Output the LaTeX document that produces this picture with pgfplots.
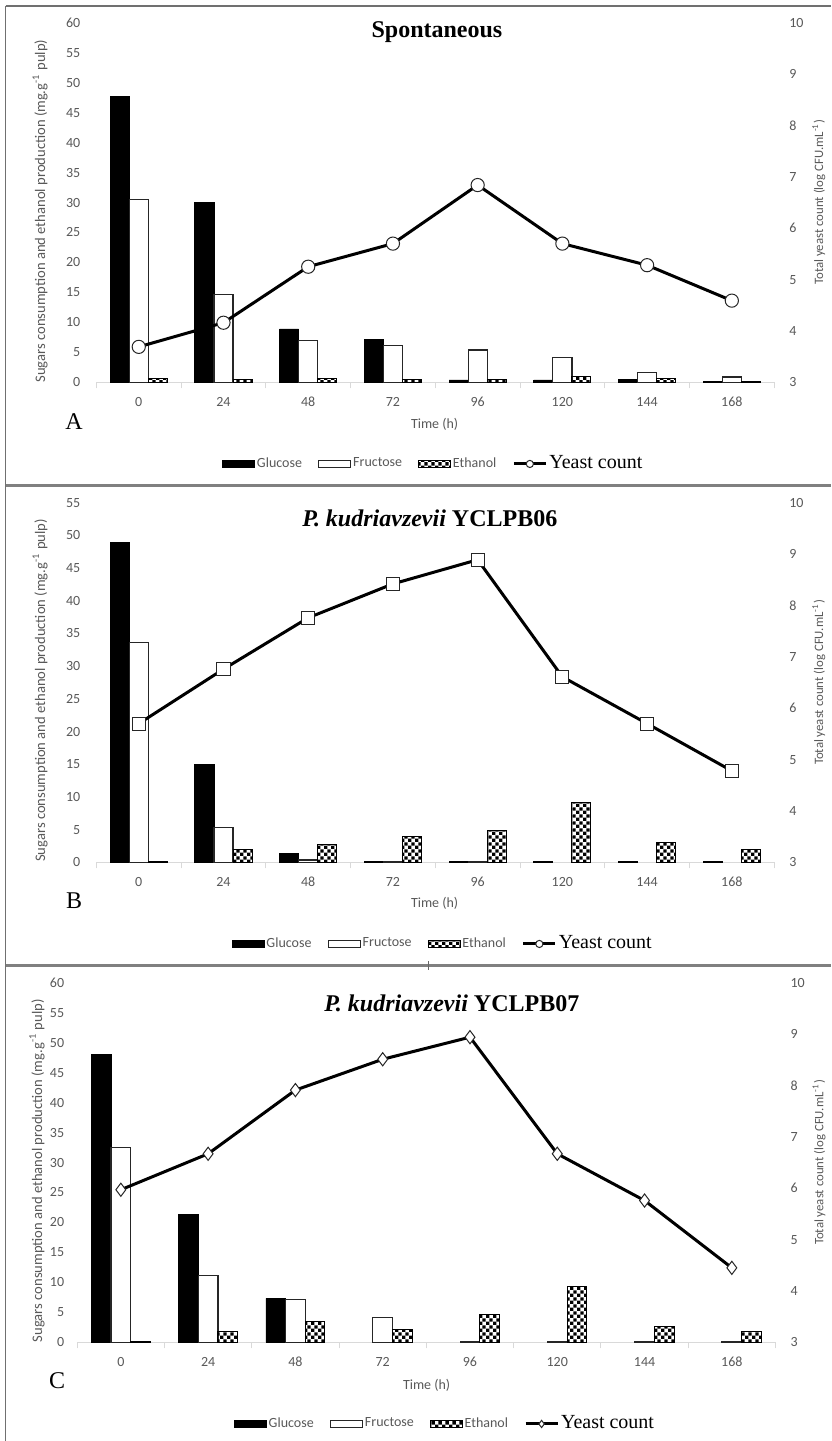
\documentclass[border=0pt]{standalone}
\usepackage{fontspec}
\setmainfont{Liberation Serif}
\setsansfont{Carlito}
\usepackage{pgfplots}
\pgfplotsset{compat=1.18}
\usetikzlibrary{patterns,patterns.meta}
\definecolor{txtgray}{HTML}{595959}
\definecolor{axgray}{HTML}{D9D9D9}
\definecolor{framegray}{HTML}{707070}

\tikzdeclarepattern{
  name=finecheck, type=uncolored,
  bounding box={(0,0) and (3.4pt,3.4pt)},
  tile size={(3.4pt,3.4pt)},
  code={\tikzset{x=1pt,y=1pt}
        \fill (0,0) rectangle (1.7,1.7);
        \fill (1.7,1.7) rectangle (3.4,3.4);}
}

\pgfplotsset{
  common/.style={
    scale only axis, height=179.8pt,
    xmin=-0.5, xmax=7.5,
    clip=false,
    ticklabel style={font=\sffamily\fontsize{7}{8}\selectfont, text=txtgray},
    /pgf/number format/assume math mode=true,
    label style={font=\sffamily\fontsize{7}{8}\selectfont, text=txtgray},
  },
  leftax/.style={
    common, ymin=0,
    axis x line*=bottom, axis y line*=left,
    y axis line style={draw=none},
    x axis line style={draw=axgray, line width=0.75pt},
    xtick={0,...,7}, xticklabels={0,24,48,72,96,120,144,168},
    major tick length=0pt,
    extra x ticks={-0.5,0.5,...,7.5}, extra x tick labels={},
    extra x tick style={major tick length=3pt, tick align=outside, tick style={draw=axgray, line width=0.5pt}},
    xticklabel style={yshift=-4pt},
    ylabel={Sugars consumption and ethanol production (mg.g\textsuperscript{-1} pulp)},
    ylabel style={font=\sffamily\fontsize{7.3}{8}\selectfont},
    xlabel={Time (h)},
  },
  rightax/.style={
    common, ymin=3, ymax=10, ytick={3,...,10},
    axis x line=none, xtick=\empty,
    axis y line*=right, y axis line style={draw=none},
    major tick length=0pt,
    yticklabel style={xshift=4pt},
    ylabel={Total yeast count (log CFU.mL\textsuperscript{-1})},
    ylabel style={font=\sffamily\fontsize{6.4}{7}\selectfont},
    legend columns=4,
    legend style={anchor=center, draw=none, fill=none,
      font=\sffamily\fontsize{7}{8}\selectfont, text=txtgray,
      /tikz/every even column/.append style={column sep=7pt},
      nodes={inner sep=1pt}},
  },
  glu/.style={ybar, bar width=0.225, bar shift=-0.225, fill=black, draw=black, line width=0.4pt},
  fru/.style={ybar, bar width=0.225, bar shift=0, fill=white, draw=black!85, line width=0.6pt},
  eth/.style={ybar, bar width=0.225, bar shift=0.225, pattern=finecheck, draw=black, line width=0.5pt},
  barleg/.style={legend image code/.code={\draw[##1] (0pt,-1.8pt) rectangle (16pt,1.8pt);}},
  yeastleg/.style={legend image code/.code={\draw[##1, mark=none] (0pt,0pt) -- (16pt,0pt); \draw[##1, mark size=1.8pt] plot coordinates {(8pt,0pt)};}},
  yeast/.style={black, line width=1.5pt, mark size=3.3pt, mark options={fill=white, draw=black!85, line width=0.5pt}, yeastleg},
}
\newcommand{\yc}{\rmfamily\fontsize{10}{10}\selectfont\color{black}Yeast count}
\tikzset{ttl/.style={font=\rmfamily\bfseries\fontsize{12}{14}\selectfont, anchor=center, inner sep=0pt},
         pl/.style={font=\rmfamily\fontsize{12}{12}\selectfont, anchor=center, inner sep=0pt}}

\begin{document}
\begin{tikzpicture}
\useasboundingbox (0,0) rectangle (415.5pt,-720.5pt);
\fill[white] (0,0) rectangle (415.5pt,-720.5pt);
\draw[framegray, line width=0.75pt] (2.75pt,-3pt) -- (2.75pt,-720.5pt);
\draw[framegray, line width=0.75pt] (2.75pt,-3pt) -- (415.5pt,-3pt);
\draw[black!50, line width=1.4pt] (2.75pt,-242.85pt) -- (415.5pt,-242.85pt);
\draw[black!50, line width=1.4pt] (2.75pt,-482.85pt) -- (415.5pt,-482.85pt);
\draw[black!60, line width=0.4pt] (214pt,-480.5pt) -- (214pt,-485pt);

% ---------------- Panel A ----------------
\begin{axis}[leftax, at={(48.2pt,-191.15pt)}, anchor=south west, width=338.9pt,
  ymax=60, ytick={0,5,...,60},
  yticklabel style={xshift=-4.5pt},
  ylabel style={at={(axis description cs:-0.0832,0.476)}, anchor=center},
  xlabel style={at={(axis description cs:0.499,-0.116)}, anchor=center}]
\addplot[glu] coordinates {(0,47.7) (1,30.0) (2,8.9) (3,7.2) (4,0.4) (5,0.4) (6,0.5) (7,0.1)};
\addplot[fru] coordinates {(0,30.5) (1,14.7) (2,6.95) (3,6.1) (4,5.4) (5,4.2) (6,1.7) (7,0.9)};
\addplot[eth] coordinates {(0,0.6) (1,0.4) (2,0.6) (3,0.4) (4,0.4) (5,0.9) (6,0.6) (7,0.1)};
\node[ttl] at (axis description cs:0.5025,0.975) {Spontaneous};
\node[pl] at (axis description cs:-0.033,-0.1096) {A};
\end{axis}
\begin{axis}[rightax, at={(48.2pt,-191.15pt)}, anchor=south west, width=338.9pt,
  ylabel style={at={(axis description cs:1.066,0.501)}, anchor=center},
  legend style={at={(0.497,-0.227)}}]
\addlegendimage{barleg, fill=black, draw=black}
\addlegendentry{Glucose}
\addlegendimage{barleg, fill=white, draw=black!85, line width=0.6pt}
\addlegendentry{Fructose}
\addlegendimage{barleg, pattern=finecheck, draw=black}
\addlegendentry{Ethanol}
\addplot[yeast, mark=*] coordinates {(0,3.69) (1,4.16) (2,5.25) (3,5.70) (4,6.84) (5,5.70) (6,5.28) (7,4.59)};
\addlegendentry{\yc}
\end{axis}

% ---------------- Panel B ----------------
\begin{axis}[leftax, at={(48.2pt,-431.15pt)}, anchor=south west, width=338.9pt,
  ymax=55, ytick={0,5,...,55},
  yticklabel style={xshift=-4.5pt},
  ylabel style={at={(axis description cs:-0.0832,0.478)}, anchor=center},
  xlabel style={at={(axis description cs:0.499,-0.114)}, anchor=center}]
\addplot[glu] coordinates {(0,48.9) (1,15.0) (2,1.4) (3,0.1) (4,0.1) (5,0.1) (6,0.1) (7,0.1)};
\addplot[fru] coordinates {(0,33.6) (1,5.3) (2,0.35) (3,0.1) (4,0.1)};
\addplot[eth] coordinates {(0,0.1) (1,1.9) (2,2.65) (3,3.9) (4,4.85) (5,9.1) (6,3.05) (7,2.0)};
\node[ttl] at (axis description cs:0.492,0.957) {\textit{P. kudriavzevii} YCLPB06};
\node[pl] at (axis description cs:-0.033,-0.107) {B};
\end{axis}
\begin{axis}[rightax, at={(48.2pt,-431.15pt)}, anchor=south west, width=338.9pt,
  ylabel style={at={(axis description cs:1.066,0.5)}, anchor=center},
  legend style={at={(0.511,-0.227)}}]
\addlegendimage{barleg, fill=black, draw=black}
\addlegendentry{Glucose}
\addlegendimage{barleg, fill=white, draw=black!85, line width=0.6pt}
\addlegendentry{Fructose}
\addlegendimage{barleg, pattern=finecheck, draw=black}
\addlegendentry{Ethanol}
\addplot[yeast, mark=square*, legend image post style={mark=*}] coordinates {(0,5.70) (1,6.76) (2,7.76) (3,8.42) (4,8.89) (5,6.61) (6,5.70) (7,4.78)};
\addlegendentry{\yc}
\end{axis}

% ---------------- Panel C ----------------
\begin{axis}[leftax, at={(38.6pt,-671.15pt)}, anchor=south west, width=349.15pt,
  ymax=60, ytick={0,5,...,60},
  yticklabel style={xshift=-3pt},
  ylabel style={at={(axis description cs:-0.0576,0.477)}, anchor=center},
  xlabel style={at={(axis description cs:0.5004,-0.119)}, anchor=center}]
\addplot[glu] coordinates {(0,48.05) (1,21.4) (2,7.35)};
\addplot[fru] coordinates {(0,32.5) (1,11.2) (2,7.1) (3,4.2) (4,0.1) (5,0.1) (6,0.1) (7,0.1)};
\addplot[eth] coordinates {(0,0.1) (1,1.8) (2,3.55) (3,2.2) (4,4.7) (5,9.3) (6,2.7) (7,1.8)};
\node[ttl] at (axis description cs:0.5365,0.943) {\textit{P. kudriavzevii} YCLPB07};
\node[pl] at (axis description cs:-0.0289,-0.107) {C};
\end{axis}
\begin{axis}[rightax, at={(38.6pt,-671.15pt)}, anchor=south west, width=349.15pt,
  ylabel style={at={(axis description cs:1.0623,0.5)}, anchor=center},
  legend style={at={(0.5267,-0.227)}}]
\addlegendimage{barleg, fill=black, draw=black}
\addlegendentry{Glucose}
\addlegendimage{barleg, fill=white, draw=black!85, line width=0.6pt}
\addlegendentry{Fructose}
\addlegendimage{barleg, pattern=finecheck, draw=black}
\addlegendentry{Ethanol}
\addplot[yeast, mark=diamond*] coordinates {(0,5.97) (1,6.67) (2,7.91) (3,8.51) (4,8.94) (5,6.67) (6,5.76) (7,4.45)};
\addlegendentry{\yc}
\end{axis}
\end{tikzpicture}
\end{document}
